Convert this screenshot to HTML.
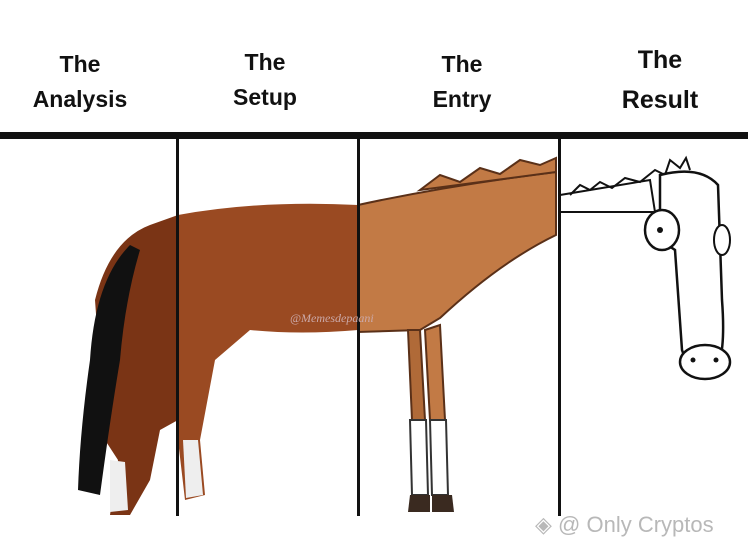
<!DOCTYPE html>
<html><head><meta charset="utf-8"><style>
html,body{margin:0;padding:0;background:#fff;}
body{width:748px;height:553px;overflow:hidden;position:relative;font-family:"Liberation Sans",sans-serif;}
.h{position:absolute;font-weight:bold;font-size:23px;text-align:center;line-height:35px;color:#111;}
.wm{position:absolute;left:535px;top:512px;font-size:22px;color:#b8b8b8;}
</style></head><body>
<div class="h" style="left:20px;top:47px;width:120px">The<br>Analysis</div>
<div class="h" style="left:205px;top:45px;width:120px">The<br>Setup</div>
<div class="h" style="left:402px;top:47px;width:120px">The<br>Entry</div>
<div class="h" style="left:600px;top:40px;width:120px;font-size:25px;line-height:40px">The<br>Result</div>
<svg width="748" height="553" style="position:absolute;left:0;top:0">
 <path d="M95,300 Q110,240 150,225 L178,215 L178,420 L160,430 L150,480 L130,515 L110,515 L118,460 L105,440 Z" fill="#7a3415"/>
 <path d="M178,215 Q260,200 358,205 L358,330 Q300,335 250,330 L215,360 L200,440 L205,495 L185,500 L178,440 Z" fill="#9a4a22"/>
 <path d="M130,245 Q95,280 90,360 Q80,430 78,490 L100,495 Q110,420 120,360 Q125,300 140,250 Z" fill="#111"/>
 <path d="M110,460 L125,462 L128,510 L110,512 Z" fill="#eee"/>
 <path d="M183,440 L198,440 L203,495 L186,498 Z" fill="#eee"/>
 <path d="M358,205 Q450,185 556,172 L556,235 Q500,262 440,318 L420,330 L358,332 Z" fill="#c27a45" stroke="#5a3018" stroke-width="2"/>
 <path d="M420,190 L440,175 L460,182 L480,168 L500,174 L520,160 L540,165 L556,158 L556,172 Z" fill="#c27a45" stroke="#5a3018" stroke-width="2"/>
 <path d="M408,330 L420,330 L425,420 L412,420 Z" fill="#b06a38" stroke="#5a3018" stroke-width="2"/>
 <path d="M425,330 L440,325 L445,420 L430,420 Z" fill="#c27a45" stroke="#5a3018" stroke-width="2"/>
 <path d="M410,420 L426,420 L428,495 L412,495 Z" fill="#fff" stroke="#333" stroke-width="2"/>
 <path d="M430,420 L446,420 L448,495 L432,495 Z" fill="#fff" stroke="#333" stroke-width="2"/>
 <path d="M410,495 L430,495 L430,512 L408,512 Z" fill="#3a2a20"/>
 <path d="M432,495 L452,495 L454,512 L432,512 Z" fill="#3a2a20"/>
 <path d="M560,195 L650,180 L655,212 L560,212 Z" fill="#fff" stroke="#111" stroke-width="2"/>
 <path d="M570,195 L580,185 L590,190 L600,182 L612,188 L625,178 L640,182 L655,170 L665,175 L670,160 L680,168 L686,158 L690,170" fill="none" stroke="#111" stroke-width="2"/>
 <path d="M660,175 Q700,165 718,185 L722,300 Q725,340 720,360 L690,372 L682,350 L675,250 L660,240 Z" fill="#fff" stroke="#111" stroke-width="2.5"/>
 <ellipse cx="662" cy="230" rx="17" ry="20" fill="#fff" stroke="#111" stroke-width="2.5"/>
 <circle cx="660" cy="230" r="3" fill="#111"/>
 <ellipse cx="722" cy="240" rx="8" ry="15" fill="#fff" stroke="#111" stroke-width="2"/>
 <ellipse cx="705" cy="362" rx="25" ry="17" fill="#fff" stroke="#111" stroke-width="2.5"/>
 <circle cx="693" cy="360" r="2.5" fill="#111"/><circle cx="716" cy="360" r="2.5" fill="#111"/>
 <rect x="0" y="132" width="748" height="7" fill="#111"/>
 <rect x="176" y="138" width="3" height="378" fill="#111"/>
 <rect x="357" y="138" width="3" height="378" fill="#111"/>
 <rect x="558" y="138" width="3" height="378" fill="#111"/>
 <text x="290" y="322" font-family="Liberation Serif,serif" font-size="12" fill="#caa" font-style="italic">@Memesdepaani</text>
</svg>
<div class="wm">◈ @ Only Cryptos</div>
</body></html>
